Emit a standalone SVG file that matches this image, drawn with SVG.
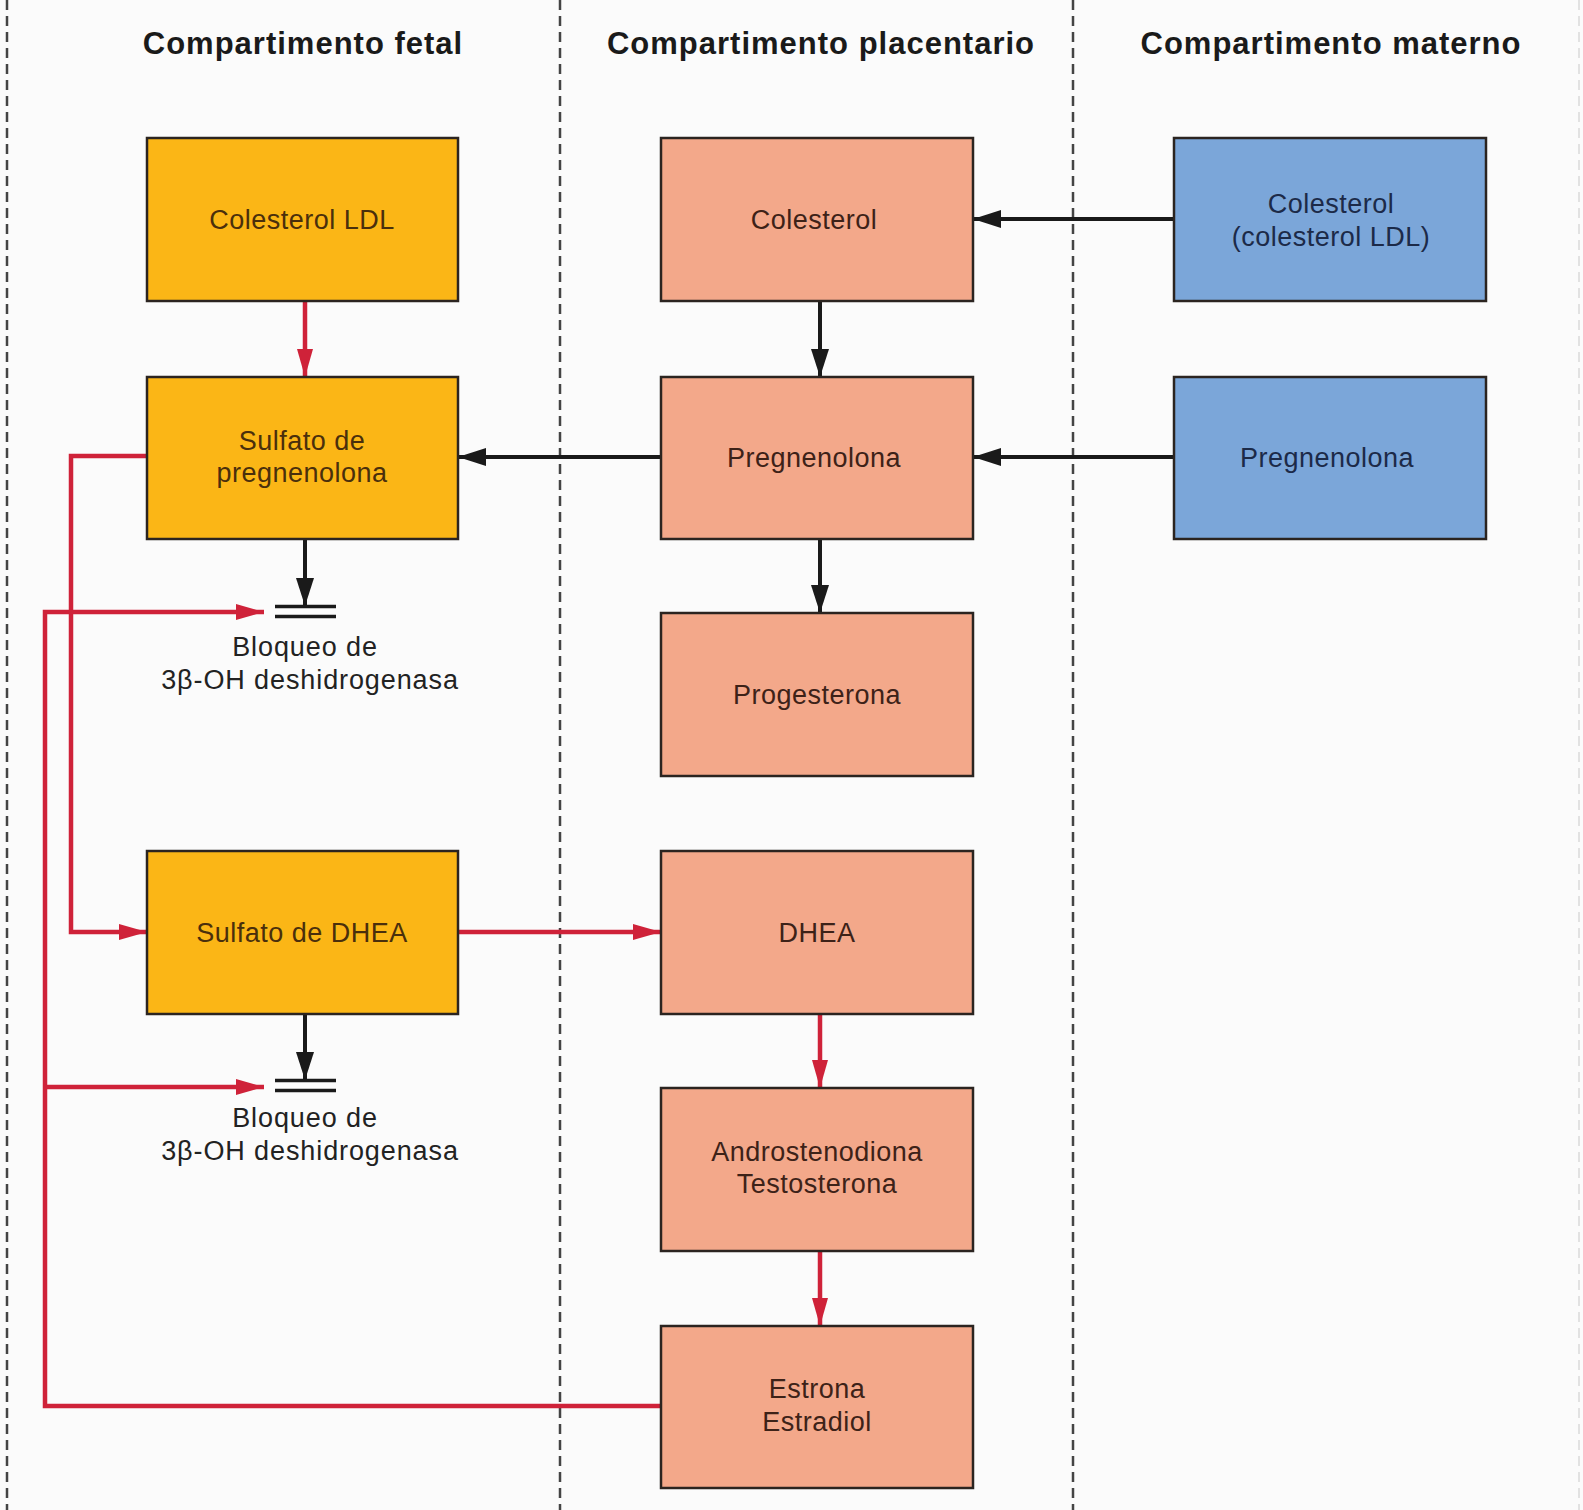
<svg xmlns="http://www.w3.org/2000/svg" width="1583" height="1510" viewBox="0 0 1583 1510">
<style>
.title{font-family:"Liberation Sans",Arial,sans-serif;font-weight:bold;font-size:31px;letter-spacing:1px;fill:#1a1a1a;text-anchor:middle}
.lbl{font-family:"Liberation Sans",Arial,sans-serif;font-size:27px;letter-spacing:0.5px;text-anchor:middle}
.blq{letter-spacing:0.9px}
.box{stroke:#2b2420;stroke-width:2.5}
.fetal{fill:#FBB616}
.plac{fill:#F3A88A}
.mat{fill:#7BA6D9}
.tf{fill:#4a2f0c}
.tp{fill:#3d2218}
.tm{fill:#1c2a48}
.tb{fill:#222}
.div{stroke:#444;stroke-width:2.5;stroke-dasharray:10 6;fill:none}
.blk{stroke:#1a1a1a;stroke-width:4;fill:none}
.red{stroke:#CF2239;stroke-width:4.5;fill:none}
.bar{stroke:#1a1a1a;stroke-width:3.5}
</style>
<defs>
<marker id="ab" markerUnits="userSpaceOnUse" markerWidth="28" markerHeight="18" refX="28" refY="9" orient="auto">
<path d="M0,0 L28,9 L0,18 z" fill="#1a1a1a"/>
</marker>
<marker id="ar" markerUnits="userSpaceOnUse" markerWidth="28" markerHeight="18" refX="28" refY="9" orient="auto">
<path d="M0,1 L28,9 L0,17 z" fill="#CF2239"/>
</marker>
</defs>
<rect width="1583" height="1510" fill="#fbfbfb"/>
<g id="dividers">
<line class="div" x1="7" y1="0" x2="7" y2="1510"/>
<line class="div" x1="560" y1="0" x2="560" y2="1510"/>
<line class="div" x1="1073" y1="0" x2="1073" y2="1510"/>
<line x1="1579" y1="0" x2="1579" y2="1510" stroke="#e2e2e2" stroke-width="2" stroke-dasharray="10 6"/>
</g>
<g id="titles">
<text class="title" x="303" y="54">Compartimento fetal</text>
<text class="title" x="821" y="54">Compartimento placentario</text>
<text class="title" x="1331" y="54">Compartimento materno</text>
</g>
<g id="connectors">
<line class="red" x1="305" y1="301" x2="305" y2="377" marker-end="url(#ar)"/>
<line class="blk" x1="1174" y1="219" x2="973" y2="219" marker-end="url(#ab)"/>
<line class="blk" x1="820" y1="301" x2="820" y2="377" marker-end="url(#ab)"/>
<line class="blk" x1="1174" y1="457" x2="973" y2="457" marker-end="url(#ab)"/>
<line class="blk" x1="661" y1="457" x2="458" y2="457" marker-end="url(#ab)"/>
<line class="blk" x1="820" y1="539" x2="820" y2="613" marker-end="url(#ab)"/>
<line class="blk" x1="305" y1="539" x2="305" y2="606" marker-end="url(#ab)"/>
<line class="bar" x1="275" y1="606.5" x2="336" y2="606.5"/>
<line class="bar" x1="275" y1="616.5" x2="336" y2="616.5"/>
<line class="blk" x1="305" y1="1014" x2="305" y2="1080" marker-end="url(#ab)"/>
<line class="bar" x1="275" y1="1080.5" x2="336" y2="1080.5"/>
<line class="bar" x1="275" y1="1090.5" x2="336" y2="1090.5"/>
<polyline class="red" points="147,456 71,456 71,932 147,932" marker-end="url(#ar)"/>
<line class="red" x1="458" y1="932" x2="661" y2="932" marker-end="url(#ar)"/>
<line class="red" x1="820" y1="1014" x2="820" y2="1088" marker-end="url(#ar)"/>
<line class="red" x1="820" y1="1251" x2="820" y2="1326" marker-end="url(#ar)"/>
<polyline class="red" points="661,1406 45,1406 45,612 264,612" marker-end="url(#ar)"/>
<line class="red" x1="45" y1="1087" x2="264" y2="1087" marker-end="url(#ar)"/>
</g>
<g id="block1">
<text class="lbl tb blq" x="305" y="656">Bloqueo de</text>
<text class="lbl tb blq" x="310" y="689">3β-OH deshidrogenasa</text>
</g>
<g id="block2">
<text class="lbl tb blq" x="305" y="1127">Bloqueo de</text>
<text class="lbl tb blq" x="310" y="1160">3β-OH deshidrogenasa</text>
</g>
<g id="fetal-colesterol-ldl">
<rect class="box fetal" x="147" y="138" width="311" height="163"/>
<text class="lbl tf" x="302" y="229">Colesterol LDL</text>
</g>
<g id="fetal-sulfato-pregnenolona">
<rect class="box fetal" x="147" y="377" width="311" height="162"/>
<text class="lbl tf" x="302" y="450">Sulfato de</text>
<text class="lbl tf" x="302" y="482">pregnenolona</text>
</g>
<g id="fetal-sulfato-dhea">
<rect class="box fetal" x="147" y="851" width="311" height="163"/>
<text class="lbl tf" x="302" y="942">Sulfato de DHEA</text>
</g>
<g id="plac-colesterol">
<rect class="box plac" x="661" y="138" width="312" height="163"/>
<text class="lbl tp" x="814" y="229">Colesterol</text>
</g>
<g id="plac-pregnenolona">
<rect class="box plac" x="661" y="377" width="312" height="162"/>
<text class="lbl tp" x="814" y="467">Pregnenolona</text>
</g>
<g id="plac-progesterona">
<rect class="box plac" x="661" y="613" width="312" height="163"/>
<text class="lbl tp" x="817" y="704">Progesterona</text>
</g>
<g id="plac-dhea">
<rect class="box plac" x="661" y="851" width="312" height="163"/>
<text class="lbl tp" x="817" y="942">DHEA</text>
</g>
<g id="plac-androstenodiona">
<rect class="box plac" x="661" y="1088" width="312" height="163"/>
<text class="lbl tp" x="817" y="1161">Androstenodiona</text>
<text class="lbl tp" x="817" y="1193">Testosterona</text>
</g>
<g id="plac-estrona">
<rect class="box plac" x="661" y="1326" width="312" height="162"/>
<text class="lbl tp" x="817" y="1398">Estrona</text>
<text class="lbl tp" x="817" y="1431">Estradiol</text>
</g>
<g id="mat-colesterol">
<rect class="box mat" x="1174" y="138" width="312" height="163"/>
<text class="lbl tm" x="1331" y="213">Colesterol</text>
<text class="lbl tm" x="1331" y="246">(colesterol LDL)</text>
</g>
<g id="mat-pregnenolona">
<rect class="box mat" x="1174" y="377" width="312" height="162"/>
<text class="lbl tm" x="1327" y="467">Pregnenolona</text>
</g>
</svg>
